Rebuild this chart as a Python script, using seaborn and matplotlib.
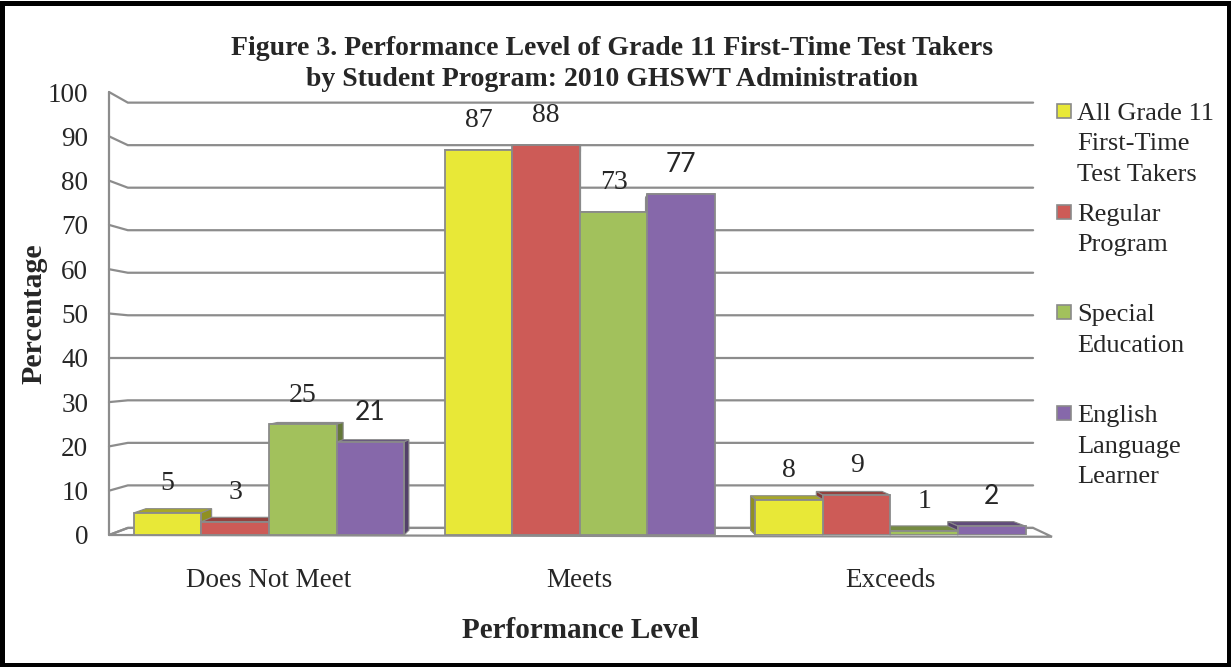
import numpy as np
import pandas as pd
import seaborn as sns
import matplotlib.pyplot as plt
from matplotlib.patches import Polygon, Rectangle
from matplotlib.colors import to_rgb

# data
levels = ['Does Not Meet', 'Meets', 'Exceeds']
programs = ['All Grade 11 First-Time Test Takers', 'Regular Program',
            'Special Education', 'English Language Learner']
legend_labels = ['All Grade 11\nFirst-Time\nTest Takers', 'Regular\nProgram',
                 'Special\nEducation', 'English\nLanguage\nLearner']
all_takers = [5, 87, 8]
regular = [3, 88, 9]
special_ed = [25, 73, 1]
ell = [21, 77, 2]
colors = ['#E8E837', '#CD5B57', '#A2C15C', '#8668AA']

df = pd.DataFrame({
    'level': levels * 4,
    'program': np.repeat(programs, 3),
    'pct': all_takers + regular + special_ed + ell,
})

sns.set_style('white')
plt.rcParams['font.family'] = ['Liberation Serif', 'DejaVu Serif']

W, H = 1231, 667
fig = plt.figure(figsize=(W / 100, H / 100), dpi=100)
ax = fig.add_axes([109 / W, 132 / H, 943 / W, 443 / H])
ax.set_facecolor('none')

XL, XR = -0.515, 2.52
VX, VY = 1.0, 40.0      # vanishing point for the fake 3-D look
GRID = '#8c8c8c'
EDGE = '#8a8a8a'


def back(x, y, s):
    return VX + s * (x - VX), VY + s * (y - VY)


# walls and floor
ax.plot([XL, XL], [0, 100], color=GRID, lw=1.6, zorder=0.5, clip_on=False)
for v in range(0, 101, 10):
    bl = back(XL, v, 0.96)
    br = back(XR, v, 0.96)
    ax.plot([XL, bl[0], br[0]], [v, bl[1], br[1]], color=GRID, lw=1.6,
            zorder=0.5, clip_on=False, solid_joinstyle='miter')
b0l = back(XL, 0, 0.96)
b0r = back(XR, 0, 0.96)
ax.add_patch(Polygon([(XL, 0), (XR, -0.4), b0r, b0l], closed=True, fc='white',
                     ec=GRID, lw=1.6, zorder=0.4, clip_on=False))

sns.barplot(data=df, x='level', y='pct', hue='program', order=levels,
            hue_order=programs, palette=colors, width=0.87, saturation=1,
            edgecolor=EDGE, linewidth=1.3, legend=False, ax=ax)

# top and side faces for each bar
for p in list(ax.patches):
    if not isinstance(p, Rectangle) or p.get_height() <= 0:
        continue
    x0 = p.get_x()
    x1 = x0 + p.get_width()
    h = p.get_height()
    xc = (x0 + x1) / 2
    fc = np.array(to_rgb(p.get_facecolor()))
    z = 3 - abs(xc - VX)
    top = [(x0, h), (x1, h), back(x1, h, 0.973), back(x0, h, 0.973)]
    ax.add_patch(Polygon(top, closed=True, fc=fc * 0.72, ec=EDGE, lw=0.8,
                         zorder=z, clip_on=False))
    xs = x1 if xc < VX else x0
    side = [(xs, 0), (xs, h), back(xs, h, 0.973), back(xs, 0, 0.973)]
    ax.add_patch(Polygon(side, closed=True, fc=fc * 0.62, ec=EDGE, lw=0.8,
                         zorder=z, clip_on=False))
    p.set_zorder(z + 0.05)

for i, c in enumerate(ax.containers):
    if i == 3:
        ax.bar_label(c, padding=12, fontsize=19, family=['Lato', 'DejaVu Sans'],
                     zorder=10)
    else:
        ax.bar_label(c, padding=12, fontsize=20, family=['Liberation Serif'],
                     zorder=10)

ax.set_xlim(XL, XR)
ax.set_ylim(0, 100)
ax.set_yticks(range(0, 101, 10))
ax.tick_params(axis='y', length=0, pad=15, labelsize=19.5)
ax.tick_params(axis='x', length=0, pad=24, labelsize=19.5)
ax.set_xlabel('')
ax.set_ylabel('')
for sp in ax.spines.values():
    sp.set_visible(False)

fig.text(580 / W, 1 - 630 / H, 'Performance Level', ha='center', va='center',
         fontsize=21, fontweight='bold')
fig.text(34 / W, 1 - 314 / H, 'Percentage', ha='center', va='center',
         rotation=90, fontsize=21.5, fontweight='bold')
fig.text(612 / W, 1 - 64 / H,
         'Figure 3. Performance Level of Grade 11 First-Time Test Takers\n'
         'by Student Program: 2010 GHSWT Administration',
         ha='center', va='center', fontsize=20, fontweight='bold',
         linespacing=1.27)

# legend drawn by hand, square next to the first line of each entry
for i, (lab, col) in enumerate(zip(legend_labels, colors)):
    yc = 111 + i * 100.7
    fig.add_artist(Rectangle((1057 / W, 1 - (yc + 7) / H), 14 / W, 14 / H,
                             transform=fig.transFigure, fc=col, ec=EDGE, lw=1.2))
    fig.text(1077 / W, 1 - (yc - 8) / H, lab, ha='left', va='top',
             fontsize=19, linespacing=1.5)

fig.add_artist(Rectangle((2.5 / W, 2.5 / H), 1 - 5 / W, 1 - 5 / H,
                         transform=fig.transFigure, fill=False, ec='black',
                         lw=3.6))

fig.savefig('out.png', dpi=100, facecolor='white')
